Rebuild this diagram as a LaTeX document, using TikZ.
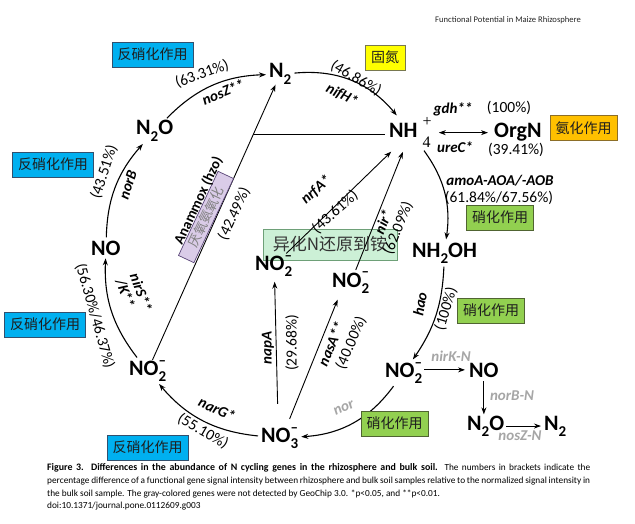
\documentclass[tikz,border=0pt]{standalone}
\usepackage{fontspec}
\setmainfont{Carlito}
\newfontfamily\cjk{Noto Sans CJK SC}
\newfontfamily\serifnum{Liberation Serif}
\usetikzlibrary{arrows.meta}
\definecolor{cnblue}{RGB}{0,176,240}
\definecolor{cnblueb}{RGB}{50,80,110}
\definecolor{cnyellow}{RGB}{255,255,0}
\definecolor{cnyellowb}{RGB}{120,120,80}
\definecolor{cnorange}{RGB}{255,192,0}
\definecolor{cnorangeb}{RGB}{140,110,40}
\definecolor{cngreen}{RGB}{146,208,80}
\definecolor{cngreenb}{RGB}{80,100,50}
\definecolor{mint}{RGB}{204,240,214}
\definecolor{mintb}{RGB}{110,160,120}
\definecolor{lav}{RGB}{218,204,232}
\definecolor{lavb}{RGB}{90,70,120}
\definecolor{gg}{RGB}{166,166,166}
\definecolor{cntext}{RGB}{30,30,30}
\newcommand\Sb[1]{\raisebox{-6.5pt}{\fontsize{15}{15}\selectfont #1}}
\newcommand\SbSp[2]{\rlap{\raisebox{-6.5pt}{\fontsize{15}{15}\selectfont #1}}\raisebox{10pt}{\fontsize{15}{15}\selectfont #2}}
\begin{document}
\begin{tikzpicture}[x=1pt,y=1pt,
  sp/.style={inner sep=0pt, anchor=base west, font=\fontsize{22}{22}\selectfont\bfseries},
  gene/.style={inner sep=0pt, font=\fontsize{15}{15}\selectfont\bfseries\itshape},
  pct/.style={inner sep=0pt, font=\fontsize{15.5}{15.5}\selectfont},
  ggene/.style={gene, text=gg},
  cnbox/.style={draw, line width=0.7pt, inner sep=0pt, minimum height=25pt, text=cntext, font=\cjk\fontsize{14}{14}\selectfont},
  bluebox/.style={cnbox, fill=cnblue, draw=cnblueb, minimum width=81pt},
  greenbox/.style={cnbox, fill=cngreen, draw=cngreenb, minimum width=67pt},
  cyc/.style={line width=1.1pt, -{Stealth[length=7pt,width=5pt]}, shorten >=3pt, shorten <=3pt},
  arr/.style={line width=0.9pt, -{Stealth[length=7pt,width=5pt]}},
  ln/.style={line width=0.9pt},
  captxt/.style={inner sep=0pt, anchor=base west, font=\fontsize{9.3}{9.3}\selectfont}
]
\fill[white] (0,0) rectangle (635,-524);

% header
\node[captxt, font=\fontsize{8.6}{8.6}\selectfont, text=black!85] (hdr) at (435,-23) {Functional Potential in Maize Rhizosphere};

% background boxes
\node[draw=mintb, fill=mint, line width=0.7pt, minimum width=134pt, minimum height=31pt, inner sep=0pt,
  font=\cjk\fontsize{17}{17}\selectfont, text=black!80] (dnra) at (330,-244.5) {异化N还原到铵\hspace{8pt}};

% species
\node[sp] (n2top) at (269,-78) {N\Sb{2}};
\node[sp] (n2o) at (136,-135) {N\Sb{2}O};
\node[sp] (no) at (91,-255) {NO};
\node[sp] (no2l) at (129,-375) {NO\SbSp{2}{–}};
\node[sp] (no3) at (261,-442) {NO\SbSp{3}{–}};
\node[sp] (no2a) at (255,-270) {NO\SbSp{2}{–}};
\node[sp] (no2b) at (332,-287) {NO\SbSp{2}{–}};
\node[sp] (nh4) at (389,-138) {NH\hspace{5pt}\rlap{\raisebox{-10pt}{\serifnum\mdseries\fontsize{16}{16}\selectfont 4}}\raisebox{11pt}{\serifnum\mdseries\fontsize{16}{16}\selectfont +}};
\node[sp] (orgn) at (494,-138) {OrgN};
\node[sp] (nh2oh) at (412,-257) {NH\Sb{2}OH};
\node[sp] (no2r) at (385,-377) {NO\SbSp{2}{–}};
\node[sp] (nor) at (469,-377) {NO};
\node[sp] (n2or) at (467,-430) {N\Sb{2}O};
\node[sp] (n2r) at (544,-430) {N\Sb{2}};

% anammox line and horizontal line
\draw[arr] (no2l) -- coordinate[pos=0.82] (amx) (n2top);
\draw[ln, shorten >=4pt] (amx) -- (amx -| nh4.west);
\node[draw=lavb, fill=lav, line width=0.7pt, rotate=64.8, minimum width=93pt, minimum height=17pt, inner sep=0pt,
  font=\cjk\fontsize{13}{13}\selectfont, text=black!50] (ambox) at (206,-217) {厌氧氨氧化};
\node[inner sep=0pt, rotate=64.8, font=\fontsize{14.5}{14.5}\selectfont\bfseries] (amlbl) at (198.5,-200.5) {Anammox (hzo)};
\node[pct, rotate=64.8] (p4249) at (234,-214) {(42.49\%)};

% arcs of the cycle
\draw[cyc] (n2o) to[bend left=22] (n2top);
\draw[cyc] (n2top) to[bend left=28] (nh4);
\draw[cyc] (nh4) to[bend left=22] (nh2oh);
\draw[cyc] (nh2oh) to[bend left=16] (no2r);
\draw[cyc] (no2r) to[bend left=25] (no3);
\draw[cyc] (no3) to[bend left=22] (no2l);
\draw[cyc] (no2l) to[bend left=20] (no);
\draw[cyc] (no) to[bend left=20] (n2o);

% DNRA and assimilation arrows
\draw[arr, shorten >=5pt, shorten <=2pt] (no2a) -- (nh4);
\draw[arr, shorten >=4pt, shorten <=2pt] (no2b) -- (nh4);
\draw[arr] ([shift={(-2,23)}]no3.north) -- ([shift={(1,-5)}]no2a.south);
\draw[arr] ([shift={(10,8)}]no3.north) -- ([shift={(-13,-6)}]no2b.south);

% OrgN
\draw[line width=1pt, {Stealth[length=7pt,width=5pt]}-{Stealth[length=7pt,width=5pt]}, shorten <=7pt, shorten >=6pt] (nh4.east |- orgn) -- (orgn.west);

% right cluster
\draw[arr, shorten >=4pt, shorten <=2pt] (no2r.east |- nor) -- (nor.west);
\draw[arr, shorten <=4pt, shorten >=1pt] (nor.south) -- (nor.south |- n2or.north);
\draw[arr, shorten >=3pt, shorten <=2pt] (n2or.east) -- (n2or.east -| n2r.west);

% gene labels
\node[pct, rotate=20] (l1) at (202,-74) {(63.31\%)};
\node[gene, rotate=22] (l2) at (223,-92) {nosZ**};
\node[pct, rotate=-30] (l3) at (356,-78) {(46.86\%)};
\node[gene, rotate=-27] (l4) at (342,-95) {nifH*};
\node[gene] (l5) at (453,-109) {gdh**};
\node[pct] (l6) at (509,-108) {(100\%)};
\node[gene] (l7) at (455,-147) {ureC*};
\node[pct] (l8) at (516,-150) {(39.41\%)};
\node[gene] (l9) at (500,-181) {amoA-AOA/-AOB};
\node[pct] (l10) at (499,-198) {(61.84\%/67.56\%)};
\node[gene, rotate=80] (l11) at (420,-304) {hao};
\node[pct, rotate=73] (l12) at (446,-309) {(100\%)};
\node[gene, rotate=72] (l13) at (128,-185) {norB};
\node[pct, rotate=72] (l14) at (104,-172) {(43.51\%)};
\node[gene, rotate=-70, align=left] (l15) at (134,-295) {nirS**\\/K**};
\node[pct, rotate=-74] (l16) at (95,-316) {(56.30\%/46.37\%)};
\node[gene, rotate=-25] (l17) at (217,-409) {narG*};
\node[pct, rotate=-30] (l18) at (203,-431) {(55.10\%)};
\node[gene, rotate=42] (l19) at (316,-190) {nrfA*};
\node[pct, rotate=42] (l20) at (335,-212) {(43.61\%)};
\node[gene, rotate=68] (l21) at (383,-222) {nir*};
\node[pct, rotate=68] (l22) at (398,-228) {(62.09\%)};
\node[gene, rotate=90] (l23) at (268,-348) {napA};
\node[pct, rotate=90] (l24) at (292,-343) {(29.68\%)};
\node[gene, rotate=67] (l25) at (331,-344) {nasA**};
\node[pct, rotate=67] (l26) at (351,-343) {(40.00\%)};
\node[ggene, rotate=25] (l27) at (344,-408) {nor};
\node[ggene] (l28) at (451,-356) {nirK-N};
\node[ggene] (l29) at (512,-396) {norB-N};
\node[ggene] (l30) at (520,-436) {nosZ-N};

% process boxes
\node[bluebox] (b1) at (152.5,-54.5) {反硝化作用};
\node[bluebox] (b2) at (53,-164.5) {反硝化作用};
\node[bluebox] (b3) at (45,-324.5) {反硝化作用};
\node[bluebox] (b4) at (147.5,-447.5) {反硝化作用};
\node[cnbox, fill=cnyellow, draw=cnyellowb, minimum width=40pt] (b5) at (385,-57.5) {固氮};
\node[cnbox, fill=cnorange, draw=cnorangeb, minimum width=67pt] (b6) at (583.5,-128) {氨化作用};
\node[greenbox] (b7) at (500,-217.5) {硝化作用};
\node[greenbox] (b8) at (491,-310.5) {硝化作用};
\node[greenbox] (b9) at (394.5,-423.5) {硝化作用};

% caption
\node[captxt] (c1) at (47,-470.5) {\makebox[543pt][s]{{\fontsize{9.9}{9.9}\selectfont\bfseries Figure 3. Differences in the abundance of N cycling genes in the rhizosphere and bulk soil.} The numbers in brackets indicate the}};
\node[captxt] (c2) at (47,-483.5) {\makebox[543pt][s]{percentage difference of a functional gene signal intensity between rhizosphere and bulk soil samples relative to the normalized signal intensity in}};
\node[captxt] (c3) at (47,-496) {the bulk soil sample. The gray-colored genes were not detected by GeoChip 3.0. *p{\textless}0.05, and **p{\textless}0.01.};
\node[captxt] (c4) at (47,-508.5) {doi:10.1371/journal.pone.0112609.g003};
\end{tikzpicture}
\end{document}
